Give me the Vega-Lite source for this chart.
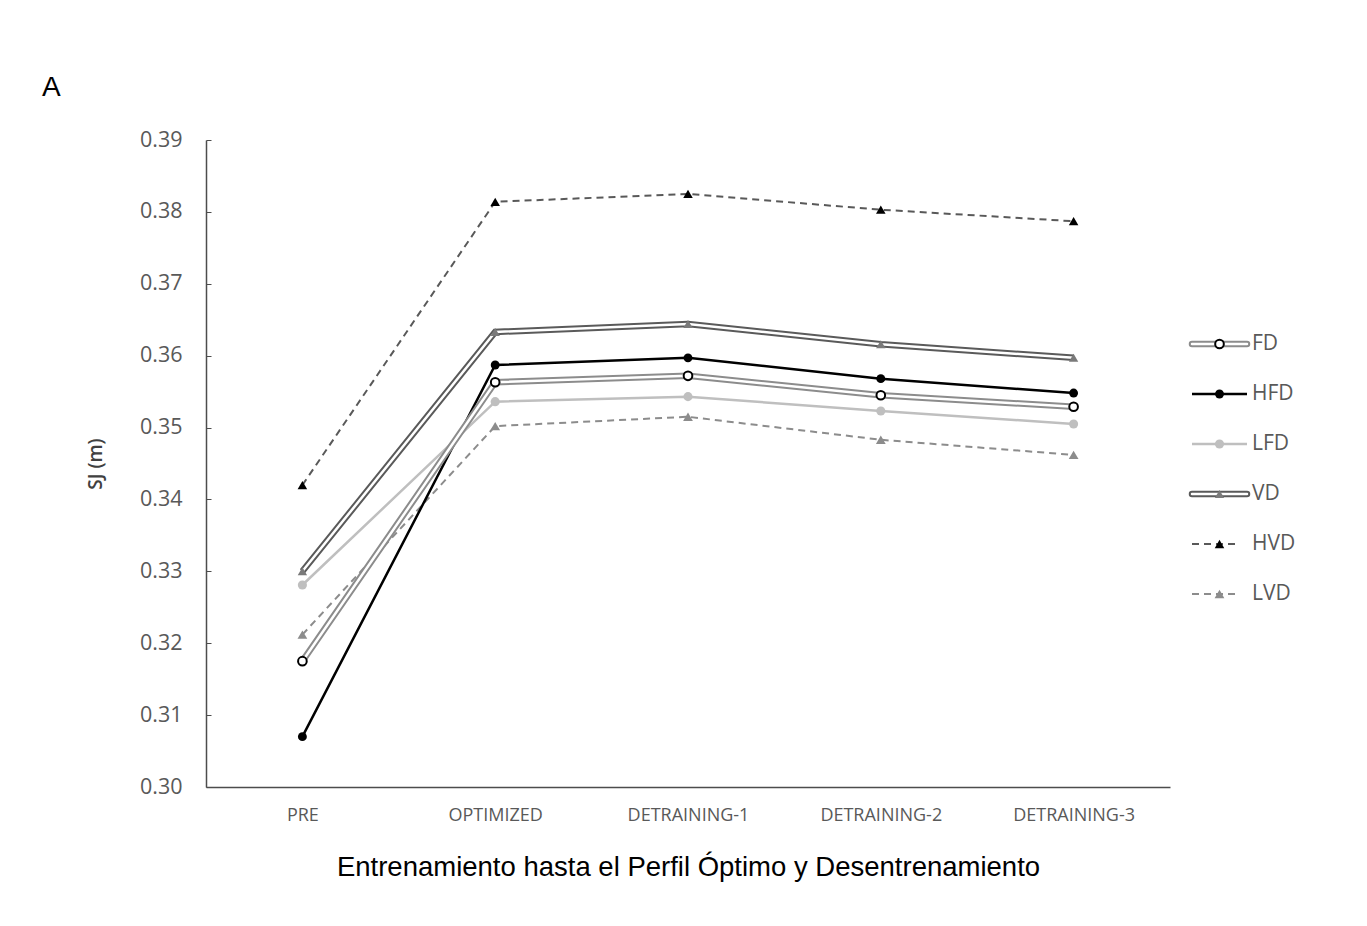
{
  "$schema": "https://vega.github.io/schema/vega-lite/v6.json",
  "background": "white",
  "padding": {"left": 42, "top": 74, "right": 5, "bottom": 5},
  "bounds": "flush",
  "spacing": 22,
  "title": {"text": "A", "anchor": "start", "frame": "group", "fontSize": 28, "font": "Liberation Sans", "fontWeight": "normal", "color": "#000000", "offset": 27, "dx": -164},
  "config": {
    "view": {"stroke": null},
    "axis": {"domainColor": "#4d4d4d", "domainWidth": 1.5, "tickColor": "#4d4d4d", "grid": false, "labelFont": "Open Sans", "titleFont": "Open Sans", "labelColor": "#595959"}
  },
  "datasets": {
    "d": [
      {"series": "FD", "stage": "PRE", "value": 0.3175},
      {"series": "FD", "stage": "OPTIMIZED", "value": 0.3563},
      {"series": "FD", "stage": "DETRAINING-1", "value": 0.3572},
      {"series": "FD", "stage": "DETRAINING-2", "value": 0.3545},
      {"series": "FD", "stage": "DETRAINING-3", "value": 0.3529},
      {"series": "HFD", "stage": "PRE", "value": 0.3070},
      {"series": "HFD", "stage": "OPTIMIZED", "value": 0.3587},
      {"series": "HFD", "stage": "DETRAINING-1", "value": 0.3597},
      {"series": "HFD", "stage": "DETRAINING-2", "value": 0.3568},
      {"series": "HFD", "stage": "DETRAINING-3", "value": 0.3548},
      {"series": "LFD", "stage": "PRE", "value": 0.3281},
      {"series": "LFD", "stage": "OPTIMIZED", "value": 0.3536},
      {"series": "LFD", "stage": "DETRAINING-1", "value": 0.3543},
      {"series": "LFD", "stage": "DETRAINING-2", "value": 0.3523},
      {"series": "LFD", "stage": "DETRAINING-3", "value": 0.3505},
      {"series": "VD", "stage": "PRE", "value": 0.3300},
      {"series": "VD", "stage": "OPTIMIZED", "value": 0.3633},
      {"series": "VD", "stage": "DETRAINING-1", "value": 0.3644},
      {"series": "VD", "stage": "DETRAINING-2", "value": 0.3616},
      {"series": "VD", "stage": "DETRAINING-3", "value": 0.3597},
      {"series": "HVD", "stage": "PRE", "value": 0.3420},
      {"series": "HVD", "stage": "OPTIMIZED", "value": 0.3814},
      {"series": "HVD", "stage": "DETRAINING-1", "value": 0.3825},
      {"series": "HVD", "stage": "DETRAINING-2", "value": 0.3803},
      {"series": "HVD", "stage": "DETRAINING-3", "value": 0.3787},
      {"series": "LVD", "stage": "PRE", "value": 0.3212},
      {"series": "LVD", "stage": "OPTIMIZED", "value": 0.3502},
      {"series": "LVD", "stage": "DETRAINING-1", "value": 0.3515},
      {"series": "LVD", "stage": "DETRAINING-2", "value": 0.3483},
      {"series": "LVD", "stage": "DETRAINING-3", "value": 0.3462}
    ],
    "leg": [
      {"series": "FD"}, {"series": "HFD"}, {"series": "LFD"}, {"series": "VD"}, {"series": "HVD"}, {"series": "LVD"}
    ]
  },
  "hconcat": [
    {
      "width": 964,
      "height": 647,
      "data": {"name": "d"},
      "encoding": {
        "x": {"field": "stage", "type": "ordinal", "sort": ["PRE", "OPTIMIZED", "DETRAINING-1", "DETRAINING-2", "DETRAINING-3"],
              "scale": {"type": "point", "padding": 0.5},
              "axis": {"title": "Entrenamiento hasta el Perfil Óptimo y Desentrenamiento", "ticks": false, "labelAngle": 0, "labelFontSize": 18, "labelPadding": 19, "titleFontSize": 27.5, "titleFont": "Liberation Sans", "titleFontWeight": "normal", "titleColor": "#000000", "titlePadding": 29}},
        "y": {"field": "value", "type": "quantitative",
              "scale": {"domain": [0.30, 0.39], "nice": false, "zero": false},
              "axis": {"title": "SJ (m)", "values": [0.30, 0.31, 0.32, 0.33, 0.34, 0.35, 0.36, 0.37, 0.38, 0.39], "format": ".2f", "tickSize": -5, "labelFontSize": 21.5, "labelPadding": 29, "titleFontSize": 19, "titleFontWeight": 600, "titleColor": "#404040", "titlePadding": 34}}
      },
      "layer": [
        {
          "transform": [{"filter": "datum.series === 'HVD' || datum.series === 'LVD'"}],
          "mark": {"type": "line", "strokeWidth": 2},
          "encoding": {
            "detail": {"field": "series"},
            "stroke": {"field": "series", "type": "nominal", "legend": null,
                       "scale": {"domain": ["FD", "HFD", "LFD", "VD", "HVD", "LVD"], "range": ["#8c8c8c", "#000000", "#bfbfbf", "#5a5a5a", "#595959", "#8c8c8c"]}},
            "strokeDash": {"field": "series", "type": "nominal", "legend": null,
                       "scale": {"domain": ["HVD", "LVD"], "range": [[7, 5], [7, 5]]}}
          }
        },
        {
          "transform": [{"filter": "datum.series === 'HFD' || datum.series === 'LFD'"}],
          "mark": {"type": "line", "strokeWidth": 2.5},
          "encoding": {
            "detail": {"field": "series"},
            "stroke": {"field": "series", "type": "nominal", "legend": null}
          }
        },
        {
          "transform": [{"filter": "datum.series === 'FD' || datum.series === 'VD'"}],
          "mark": {"type": "line", "strokeWidth": 6.5},
          "encoding": {
            "detail": {"field": "series"},
            "stroke": {"field": "series", "type": "nominal", "legend": null}
          }
        },
        {
          "transform": [{"filter": "datum.series === 'FD' || datum.series === 'VD'"}],
          "mark": {"type": "line", "strokeWidth": 2.5, "stroke": "#ffffff"},
          "encoding": {"detail": {"field": "series"}}
        },
        {
          "transform": [{"filter": "datum.series !== 'FD'"}],
          "mark": {"type": "point", "filled": true, "opacity": 1},
          "encoding": {
            "fill": {"field": "series", "type": "nominal", "legend": null,
                     "scale": {"domain": ["FD", "HFD", "LFD", "VD", "HVD", "LVD"], "range": ["#ffffff", "#000000", "#bfbfbf", "#7a7a7a", "#000000", "#8c8c8c"]}},
            "shape": {"field": "series", "type": "nominal", "legend": null,
                      "scale": {"domain": ["FD", "HFD", "LFD", "VD", "HVD", "LVD"], "range": ["circle", "circle", "circle", "triangle-up", "triangle-up", "triangle-up"]}},
            "size": {"field": "series", "type": "nominal", "legend": null,
                     "scale": {"domain": ["FD", "HFD", "LFD", "VD", "HVD", "LVD"], "range": [75, 95, 95, 110, 120, 110]}}
          }
        },
        {
          "transform": [{"filter": "datum.series === 'FD'"}],
          "mark": {"type": "point", "shape": "circle", "filled": true, "fill": "#ffffff", "stroke": "#000000", "strokeWidth": 2, "opacity": 1, "size": 75},
          "encoding": {}
        }
      ]
    },
    {
      "width": 55,
      "height": 647,
      "data": {"name": "leg"},
      "transform": [{"window": [{"op": "row_number", "as": "k"}]}],
      "encoding": {
        "y": {"field": "k", "type": "quantitative",
              "scale": {"domain": [-3.08, 9.86], "reverse": true, "nice": false, "zero": false}, "axis": null}
      },
      "layer": [
        {
          "transform": [{"filter": "datum.series === 'HVD' || datum.series === 'LVD'"}],
          "mark": {"type": "rule", "strokeWidth": 2},
          "encoding": {
            "x": {"datum": 0, "type": "quantitative", "scale": {"domain": [0, 1]}, "axis": null},
            "x2": {"datum": 0.85},
            "stroke": {"field": "series", "type": "nominal", "legend": null,
                       "scale": {"domain": ["FD", "HFD", "LFD", "VD", "HVD", "LVD"], "range": ["#8c8c8c", "#000000", "#bfbfbf", "#5a5a5a", "#595959", "#8c8c8c"]}},
            "strokeDash": {"field": "series", "type": "nominal", "legend": null,
                       "scale": {"domain": ["HVD", "LVD"], "range": [[7, 5], [7, 5]]}}
          }
        },
        {
          "transform": [{"filter": "datum.series === 'HFD' || datum.series === 'LFD'"}],
          "mark": {"type": "rule", "strokeWidth": 2.5},
          "encoding": {
            "x": {"datum": 0, "type": "quantitative"},
            "x2": {"datum": 1},
            "stroke": {"field": "series", "type": "nominal", "legend": null}
          }
        },
        {
          "transform": [{"filter": "datum.series === 'FD' || datum.series === 'VD'"}],
          "mark": {"type": "rule", "strokeWidth": 6.5, "strokeCap": "round"},
          "encoding": {
            "x": {"datum": 0, "type": "quantitative"},
            "x2": {"datum": 1},
            "stroke": {"field": "series", "type": "nominal", "legend": null}
          }
        },
        {
          "transform": [{"filter": "datum.series === 'FD' || datum.series === 'VD'"}],
          "mark": {"type": "rule", "strokeWidth": 2.5, "stroke": "#ffffff", "strokeCap": "round"},
          "encoding": {
            "x": {"datum": 0, "type": "quantitative"},
            "x2": {"datum": 1}
          }
        },
        {
          "transform": [{"filter": "datum.series !== 'FD'"}],
          "mark": {"type": "point", "filled": true, "opacity": 1},
          "encoding": {
            "x": {"datum": 0.5, "type": "quantitative"},
            "fill": {"field": "series", "type": "nominal", "legend": null,
                     "scale": {"domain": ["FD", "HFD", "LFD", "VD", "HVD", "LVD"], "range": ["#ffffff", "#000000", "#bfbfbf", "#7a7a7a", "#000000", "#8c8c8c"]}},
            "shape": {"field": "series", "type": "nominal", "legend": null,
                      "scale": {"domain": ["FD", "HFD", "LFD", "VD", "HVD", "LVD"], "range": ["circle", "circle", "circle", "triangle-up", "triangle-up", "triangle-up"]}},
            "size": {"field": "series", "type": "nominal", "legend": null,
                     "scale": {"domain": ["FD", "HFD", "LFD", "VD", "HVD", "LVD"], "range": [75, 95, 95, 110, 120, 110]}}
          }
        },
        {
          "transform": [{"filter": "datum.series === 'FD'"}],
          "mark": {"type": "point", "shape": "circle", "filled": true, "fill": "#ffffff", "stroke": "#000000", "strokeWidth": 2, "opacity": 1, "size": 75},
          "encoding": {"x": {"datum": 0.5, "type": "quantitative"}}
        },
        {
          "mark": {"type": "text", "align": "left", "baseline": "middle", "dx": 5, "fontSize": 21, "font": "Open Sans", "color": "#595959"},
          "encoding": {
            "x": {"datum": 1, "type": "quantitative"},
            "text": {"field": "series"}
          }
        }
      ]
    }
  ]
}
